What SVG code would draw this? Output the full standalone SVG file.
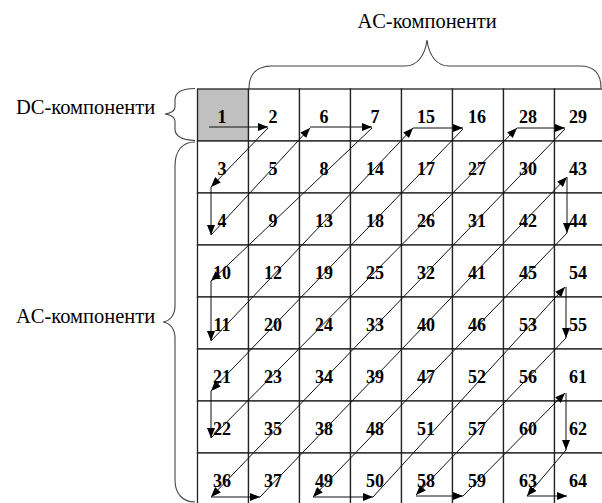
<svg xmlns="http://www.w3.org/2000/svg" width="602" height="503" viewBox="0 0 602 503">
<style>
.cell{fill:#fff;stroke:#222;stroke-width:1.3}
.dc{fill:#c0c0c0}
.num{font-family:"Liberation Serif","Times New Roman",serif;font-weight:bold;font-size:18px;text-anchor:middle;fill:#000}
.lbl{font-family:"Liberation Serif","Times New Roman",serif;font-size:20.5px;fill:#000}
.brace{fill:none;stroke:#444;stroke-width:1.1}
.arr{stroke:#111;stroke-width:1;fill:none;marker-end:url(#ah)}
</style>
<defs>
<marker id="ah" markerUnits="userSpaceOnUse" markerWidth="10" markerHeight="8" refX="10" refY="4" orient="auto">
<path d="M0,0 L10,4 L0,8 Z" fill="#000"/>
</marker>
</defs>
<rect width="602" height="503" fill="#fff"/>
<g id="labels">
<text class="lbl" x="427" y="28" text-anchor="middle">AC-компоненти</text>
<text class="lbl" x="16" y="114">DC-компоненти</text>
<text class="lbl" x="16" y="323">AC-компоненти</text>
</g>
<g id="braces">
<path class="brace" d="M249,88 C249,74 257,66 272,66 L405,66 C417,66 425,56 427,40 C429,56 437,66 449,66 L580,66 C594,66 601,74 601,88"/>
<path class="brace" d="M195,88.5 C183,88.5 175,92 175,100 L175,107 C175,111 171,113 165,114 C171,115 175,117 175,121 L175,129 C175,137 183,140 195,140.5"/>
<path class="brace" d="M195,142 C183,142 175,150 175,166 L175,306 C175,315 170,321 163,322 C170,323 175,329 175,338 L175,480 C175,494 183,502 195,502"/>
</g>
<g id="r0">
<g id="n1"><rect class="cell dc" x="197.5" y="89" width="51" height="52"/><text class="num" x="222" y="123">1</text></g>
<g id="n2"><rect class="cell" x="248.5" y="89" width="51" height="52"/><text class="num" x="273" y="123">2</text></g>
<g id="n6"><rect class="cell" x="299.5" y="89" width="51" height="52"/><text class="num" x="324" y="123">6</text></g>
<g id="n7"><rect class="cell" x="350.5" y="89" width="51" height="52"/><text class="num" x="375" y="123">7</text></g>
<g id="n15"><rect class="cell" x="401.5" y="89" width="51" height="52"/><text class="num" x="426" y="123">15</text></g>
<g id="n16"><rect class="cell" x="452.5" y="89" width="51" height="52"/><text class="num" x="477" y="123">16</text></g>
<g id="n28"><rect class="cell" x="503.5" y="89" width="51" height="52"/><text class="num" x="528" y="123">28</text></g>
<g id="n29"><rect class="cell" x="554.5" y="89" width="51" height="52"/><text class="num" x="578" y="123">29</text></g>
</g>
<g id="r1">
<g id="n3"><rect class="cell" x="197.5" y="141" width="51" height="52"/><text class="num" x="222" y="175">3</text></g>
<g id="n5"><rect class="cell" x="248.5" y="141" width="51" height="52"/><text class="num" x="273" y="175">5</text></g>
<g id="n8"><rect class="cell" x="299.5" y="141" width="51" height="52"/><text class="num" x="324" y="175">8</text></g>
<g id="n14"><rect class="cell" x="350.5" y="141" width="51" height="52"/><text class="num" x="375" y="175">14</text></g>
<g id="n17"><rect class="cell" x="401.5" y="141" width="51" height="52"/><text class="num" x="426" y="175">17</text></g>
<g id="n27"><rect class="cell" x="452.5" y="141" width="51" height="52"/><text class="num" x="477" y="175">27</text></g>
<g id="n30"><rect class="cell" x="503.5" y="141" width="51" height="52"/><text class="num" x="528" y="175">30</text></g>
<g id="n43"><rect class="cell" x="554.5" y="141" width="51" height="52"/><text class="num" x="578" y="175">43</text></g>
</g>
<g id="r2">
<g id="n4"><rect class="cell" x="197.5" y="193" width="51" height="52"/><text class="num" x="222" y="227">4</text></g>
<g id="n9"><rect class="cell" x="248.5" y="193" width="51" height="52"/><text class="num" x="273" y="227">9</text></g>
<g id="n13"><rect class="cell" x="299.5" y="193" width="51" height="52"/><text class="num" x="324" y="227">13</text></g>
<g id="n18"><rect class="cell" x="350.5" y="193" width="51" height="52"/><text class="num" x="375" y="227">18</text></g>
<g id="n26"><rect class="cell" x="401.5" y="193" width="51" height="52"/><text class="num" x="426" y="227">26</text></g>
<g id="n31"><rect class="cell" x="452.5" y="193" width="51" height="52"/><text class="num" x="477" y="227">31</text></g>
<g id="n42"><rect class="cell" x="503.5" y="193" width="51" height="52"/><text class="num" x="528" y="227">42</text></g>
<g id="n44"><rect class="cell" x="554.5" y="193" width="51" height="52"/><text class="num" x="578" y="227">44</text></g>
</g>
<g id="r3">
<g id="n10"><rect class="cell" x="197.5" y="245" width="51" height="52"/><text class="num" x="222" y="279">10</text></g>
<g id="n12"><rect class="cell" x="248.5" y="245" width="51" height="52"/><text class="num" x="273" y="279">12</text></g>
<g id="n19"><rect class="cell" x="299.5" y="245" width="51" height="52"/><text class="num" x="324" y="279">19</text></g>
<g id="n25"><rect class="cell" x="350.5" y="245" width="51" height="52"/><text class="num" x="375" y="279">25</text></g>
<g id="n32"><rect class="cell" x="401.5" y="245" width="51" height="52"/><text class="num" x="426" y="279">32</text></g>
<g id="n41"><rect class="cell" x="452.5" y="245" width="51" height="52"/><text class="num" x="477" y="279">41</text></g>
<g id="n45"><rect class="cell" x="503.5" y="245" width="51" height="52"/><text class="num" x="528" y="279">45</text></g>
<g id="n54"><rect class="cell" x="554.5" y="245" width="51" height="52"/><text class="num" x="578" y="279">54</text></g>
</g>
<g id="r4">
<g id="n11"><rect class="cell" x="197.5" y="297" width="51" height="52"/><text class="num" x="222" y="331">11</text></g>
<g id="n20"><rect class="cell" x="248.5" y="297" width="51" height="52"/><text class="num" x="273" y="331">20</text></g>
<g id="n24"><rect class="cell" x="299.5" y="297" width="51" height="52"/><text class="num" x="324" y="331">24</text></g>
<g id="n33"><rect class="cell" x="350.5" y="297" width="51" height="52"/><text class="num" x="375" y="331">33</text></g>
<g id="n40"><rect class="cell" x="401.5" y="297" width="51" height="52"/><text class="num" x="426" y="331">40</text></g>
<g id="n46"><rect class="cell" x="452.5" y="297" width="51" height="52"/><text class="num" x="477" y="331">46</text></g>
<g id="n53"><rect class="cell" x="503.5" y="297" width="51" height="52"/><text class="num" x="528" y="331">53</text></g>
<g id="n55"><rect class="cell" x="554.5" y="297" width="51" height="52"/><text class="num" x="578" y="331">55</text></g>
</g>
<g id="r5">
<g id="n21"><rect class="cell" x="197.5" y="349" width="51" height="52"/><text class="num" x="222" y="383">21</text></g>
<g id="n23"><rect class="cell" x="248.5" y="349" width="51" height="52"/><text class="num" x="273" y="383">23</text></g>
<g id="n34"><rect class="cell" x="299.5" y="349" width="51" height="52"/><text class="num" x="324" y="383">34</text></g>
<g id="n39"><rect class="cell" x="350.5" y="349" width="51" height="52"/><text class="num" x="375" y="383">39</text></g>
<g id="n47"><rect class="cell" x="401.5" y="349" width="51" height="52"/><text class="num" x="426" y="383">47</text></g>
<g id="n52"><rect class="cell" x="452.5" y="349" width="51" height="52"/><text class="num" x="477" y="383">52</text></g>
<g id="n56"><rect class="cell" x="503.5" y="349" width="51" height="52"/><text class="num" x="528" y="383">56</text></g>
<g id="n61"><rect class="cell" x="554.5" y="349" width="51" height="52"/><text class="num" x="578" y="383">61</text></g>
</g>
<g id="r6">
<g id="n22"><rect class="cell" x="197.5" y="401" width="51" height="52"/><text class="num" x="222" y="435">22</text></g>
<g id="n35"><rect class="cell" x="248.5" y="401" width="51" height="52"/><text class="num" x="273" y="435">35</text></g>
<g id="n38"><rect class="cell" x="299.5" y="401" width="51" height="52"/><text class="num" x="324" y="435">38</text></g>
<g id="n48"><rect class="cell" x="350.5" y="401" width="51" height="52"/><text class="num" x="375" y="435">48</text></g>
<g id="n51"><rect class="cell" x="401.5" y="401" width="51" height="52"/><text class="num" x="426" y="435">51</text></g>
<g id="n57"><rect class="cell" x="452.5" y="401" width="51" height="52"/><text class="num" x="477" y="435">57</text></g>
<g id="n60"><rect class="cell" x="503.5" y="401" width="51" height="52"/><text class="num" x="528" y="435">60</text></g>
<g id="n62"><rect class="cell" x="554.5" y="401" width="51" height="52"/><text class="num" x="578" y="435">62</text></g>
</g>
<g id="r7">
<g id="n36"><rect class="cell" x="197.5" y="453" width="51" height="52"/><text class="num" x="222" y="487">36</text></g>
<g id="n37"><rect class="cell" x="248.5" y="453" width="51" height="52"/><text class="num" x="273" y="487">37</text></g>
<g id="n49"><rect class="cell" x="299.5" y="453" width="51" height="52"/><text class="num" x="324" y="487">49</text></g>
<g id="n50"><rect class="cell" x="350.5" y="453" width="51" height="52"/><text class="num" x="375" y="487">50</text></g>
<g id="n58"><rect class="cell" x="401.5" y="453" width="51" height="52"/><text class="num" x="426" y="487">58</text></g>
<g id="n59"><rect class="cell" x="452.5" y="453" width="51" height="52"/><text class="num" x="477" y="487">59</text></g>
<g id="n63"><rect class="cell" x="503.5" y="453" width="51" height="52"/><text class="num" x="528" y="487">63</text></g>
<g id="n64"><rect class="cell" x="554.5" y="453" width="51" height="52"/><text class="num" x="578" y="487">64</text></g>
</g>
<g id="connectors">
<line class="arr" x1="209" y1="127" x2="268" y2="127"/>
<line class="arr" x1="268" y1="128" x2="211" y2="187"/>
<line class="arr" x1="211" y1="187" x2="211" y2="235"/>
<line class="arr" x1="211" y1="235" x2="310" y2="128"/>
<line class="arr" x1="310" y1="127" x2="372" y2="127"/>
<line class="arr" x1="372" y1="128" x2="211" y2="281"/>
<line class="arr" x1="211" y1="281" x2="211" y2="341"/>
<line class="arr" x1="211" y1="341" x2="413" y2="128"/>
<line class="arr" x1="413" y1="128" x2="463" y2="128"/>
<line class="arr" x1="463" y1="129" x2="211" y2="391"/>
<line class="arr" x1="211" y1="391" x2="211" y2="438"/>
<line class="arr" x1="211" y1="438" x2="517" y2="128"/>
<line class="arr" x1="517" y1="128" x2="565" y2="128"/>
<line class="arr" x1="565" y1="129" x2="211" y2="497"/>
<line class="arr" x1="211" y1="497" x2="260" y2="497"/>
<line class="arr" x1="260" y1="497" x2="567" y2="177"/>
<line class="arr" x1="567" y1="177" x2="567" y2="233"/>
<line class="arr" x1="567" y1="233" x2="313" y2="497"/>
<line class="arr" x1="313" y1="497" x2="373" y2="497"/>
<line class="arr" x1="373" y1="497" x2="565" y2="287"/>
<line class="arr" x1="566" y1="287" x2="566" y2="338"/>
<line class="arr" x1="566" y1="338" x2="416" y2="495"/>
<line class="arr" x1="416" y1="496" x2="463" y2="496"/>
<line class="arr" x1="463" y1="496" x2="565" y2="393"/>
<line class="arr" x1="566" y1="393" x2="566" y2="450"/>
<line class="arr" x1="566" y1="450" x2="527" y2="496"/>
<line class="arr" x1="527" y1="496" x2="567" y2="496"/>
</g>
</svg>
